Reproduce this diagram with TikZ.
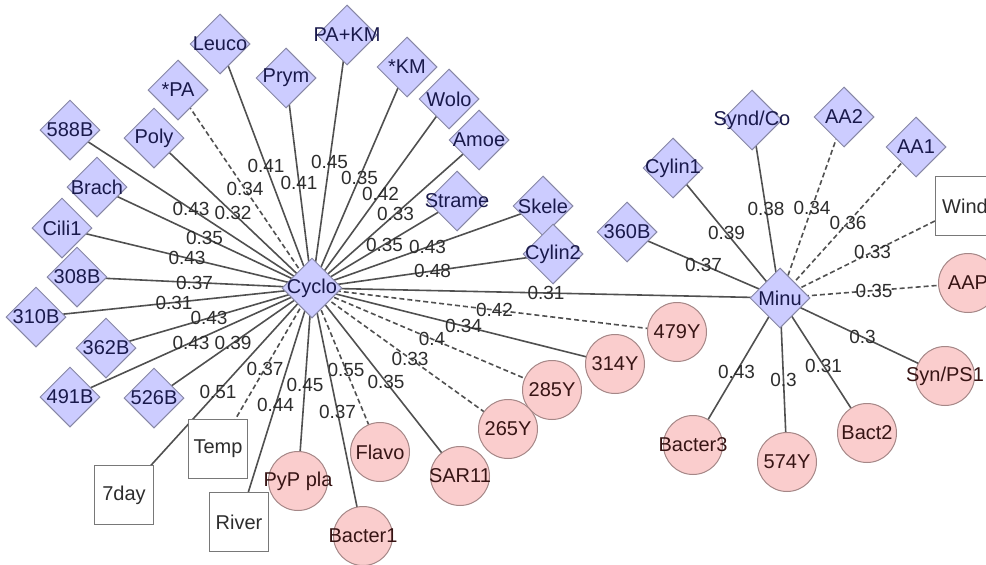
\documentclass[tikz,border=0pt]{standalone}
\usepackage{fontspec}
\setmainfont{Liberation Sans}
\usetikzlibrary{shapes.geometric,backgrounds}

\definecolor{dfill}{RGB}{204,204,255}
\definecolor{dline}{RGB}{135,135,165}
\definecolor{dtext}{RGB}{25,25,75}
\definecolor{cfill}{RGB}{250,205,205}
\definecolor{cline}{RGB}{165,135,135}
\definecolor{ctext}{RGB}{55,20,20}
\definecolor{bline}{RGB}{120,120,120}
\definecolor{edgec}{RGB}{80,80,80}
\definecolor{wtext}{RGB}{45,45,45}

\tikzset{
  nodefont/.style={font=\fontsize{20}{24}\selectfont},
  taxon/.style={shape=diamond, draw=dline, fill=dfill, line width=1pt,
    minimum width=60pt, minimum height=60pt, inner sep=0pt,
    label={[text=dtext, nodefont]center:#1}},
  otu/.style={circle, draw=cline, fill=cfill, line width=1pt,
    minimum size=59pt, inner sep=0pt,
    label={[text=ctext, nodefont]center:#1}},
  envbox/.style={rectangle, draw=bline, fill=white, line width=1pt,
    minimum width=59pt, minimum height=59pt, inner sep=0pt,
    label={[text=wtext, nodefont]center:#1}},
  link/.style={draw=edgec, line width=1.6pt},
  dlink/.style={link, dash pattern=on 5pt off 3pt},
  w/.style={midway, font=\fontsize{19}{22}\selectfont, text=wtext, inner sep=0pt},
}

\begin{document}
\begin{tikzpicture}[x=1pt, y=-1pt]
\useasboundingbox (0,0) rectangle (986,565);

% hubs
\node[taxon=Cyclo] (cyclo) at (312,288) {};
\node[taxon=Minu] (minu) at (780,298) {};

% upper fan of Cyclo
\node[taxon=Leuco]  (leuco)  at (220,44) {};
\node[taxon={*PA}]  (spa)    at (178,90) {};
\node[taxon=Prym]   (prym)   at (286,78) {};
\node[taxon={PA+KM}] (pakm)  at (347,35) {};
\node[taxon={*KM}]  (skm)    at (407,67) {};
\node[taxon=Wolo]   (wolo)   at (449,99) {};
\node[taxon=Amoe]   (amoe)   at (479,140) {};
\node[taxon=Strame] (strame) at (457,201) {};
\node[taxon=Skele]  (skele)  at (543,206) {};
\node[taxon=Cylin2] (cylin2) at (553,254) {};

% left fan of Cyclo
\node[taxon=588B]  (b588)  at (70,130) {};
\node[taxon=Poly]  (poly)  at (154,138) {};
\node[taxon=Brach] (brach) at (97,187) {};
\node[taxon=Cili1] (cili1) at (62,228) {};
\node[taxon=308B]  (b308)  at (77,277) {};
\node[taxon=310B]  (b310)  at (36,317) {};
\node[taxon=362B]  (b362)  at (106,348) {};
\node[taxon=491B]  (b491)  at (70,397) {};
\node[taxon=526B]  (b526)  at (154,398) {};

% environment variables
\node[envbox=7day]  (day7)  at (124,495) {};
\node[envbox=Temp]  (temp)  at (218,449) {};
\node[envbox=River] (river) at (239,522) {};
\node[envbox=Wind]  (wind)  at (965,206) {};

% lower fan of Cyclo
\node[otu={PyP pla}] (pyp)     at (298,481) {};
\node[otu=Bacter1]   (bacter1) at (363,536) {};
\node[otu=Flavo]     (flavo)   at (380,452) {};
\node[otu=SAR11]     (sar11)   at (460,476) {};
\node[otu=285Y]      (y285)    at (552,390) {};
\node[otu=265Y]      (y265)    at (508,429) {};
\node[otu=314Y]      (y314)    at (615,364) {};
\node[otu=479Y]      (y479)    at (677,332) {};

% Minu neighbourhood
\node[taxon={Synd/Co}] (synd)   at (752,120) {};
\node[taxon=AA2]       (aa2)    at (844,117) {};
\node[taxon=AA1]       (aa1)    at (916,147) {};
\node[taxon=Cylin1]    (cylin1) at (673,168) {};
\node[taxon=360B]      (b360)   at (627,232) {};
\node[otu=AAP]         (aap)    at (968,283) {};
\node[otu={Syn/PS1}]   (synps1) at (945,376) {};
\node[otu=Bacter3]     (bacter3) at (693,445) {};
\node[otu=574Y]        (y574)   at (787,462) {};
\node[otu=Bact2]       (bact2)  at (867,433) {};

\begin{scope}[on background layer]
  % Cyclo edges
  \path[link]  (cyclo.center) -- (leuco.center)  node[w]{0.41};
  \path[dlink] (cyclo.center) -- (spa.center)    node[w]{0.34};
  \path[link]  (cyclo.center) -- (prym.center)   node[w]{0.41};
  \path[link]  (cyclo.center) -- (pakm.center)   node[w]{0.45};
  \path[link]  (cyclo.center) -- (skm.center)    node[w]{0.35};
  \path[link]  (cyclo.center) -- (wolo.center)   node[w]{0.42};
  \path[link]  (cyclo.center) -- (amoe.center)   node[w]{0.33};
  \path[link]  (cyclo.center) -- (strame.center) node[w]{0.35};
  \path[link]  (cyclo.center) -- (skele.center)  node[w]{0.43};
  \path[link]  (cyclo.center) -- (cylin2.center) node[w]{0.48};
  \path[link]  (cyclo.center) -- (minu.center)   node[w]{0.31};
  \path[dlink] (cyclo.center) -- (y479.center)   node[w]{0.42};
  \path[link]  (cyclo.center) -- (y314.center)   node[w]{0.34};
  \path[dlink] (cyclo.center) -- (y285.center)   node[w]{0.4};
  \path[dlink] (cyclo.center) -- (y265.center)   node[w]{0.33};
  \path[link]  (cyclo.center) -- (sar11.center)  node[w]{0.35};
  \path[dlink] (cyclo.center) -- (flavo.center)  node[w]{0.55};
  \path[link]  (cyclo.center) -- (bacter1.center) node[w]{0.37};
  \path[link]  (cyclo.center) -- (pyp.center)    node[w]{0.45};
  \path[link]  (cyclo.center) -- (river.center)  node[w]{0.44};
  \path[dlink] (cyclo.center) -- (temp.center)   node[w]{0.37};
  \path[link]  (cyclo.center) -- (day7.center)   node[w]{0.51};
  \path[link]  (cyclo.center) -- (b526.center)   node[w]{0.39};
  \path[link]  (cyclo.center) -- (b491.center)   node[w]{0.43};
  \path[link]  (cyclo.center) -- (b362.center)   node[w]{0.43};
  \path[link]  (cyclo.center) -- (b310.center)   node[w]{0.31};
  \path[link]  (cyclo.center) -- (b308.center)   node[w]{0.37};
  \path[link]  (cyclo.center) -- (cili1.center)  node[w]{0.43};
  \path[link]  (cyclo.center) -- (brach.center)  node[w]{0.35};
  \path[link]  (cyclo.center) -- (b588.center)   node[w]{0.43};
  \path[link]  (cyclo.center) -- (poly.center)   node[w]{0.32};
  % Minu edges
  \path[link]  (minu.center) -- (synd.center)    node[w]{0.38};
  \path[dlink] (minu.center) -- (aa2.center)     node[w]{0.34};
  \path[dlink] (minu.center) -- (aa1.center)     node[w]{0.36};
  \path[dlink] (minu.center) -- (wind.center)    node[w]{0.33};
  \path[dlink] (minu.center) -- (aap.center)     node[w]{0.35};
  \path[link]  (minu.center) -- (cylin1.center)  node[w]{0.39};
  \path[link]  (minu.center) -- (b360.center)    node[w]{0.37};
  \path[link]  (minu.center) -- (synps1.center)  node[w]{0.3};
  \path[link]  (minu.center) -- (bact2.center)   node[w]{0.31};
  \path[link]  (minu.center) -- (y574.center)    node[w]{0.3};
  \path[link]  (minu.center) -- (bacter3.center) node[w]{0.43};
\end{scope}
\end{tikzpicture}
\end{document}
